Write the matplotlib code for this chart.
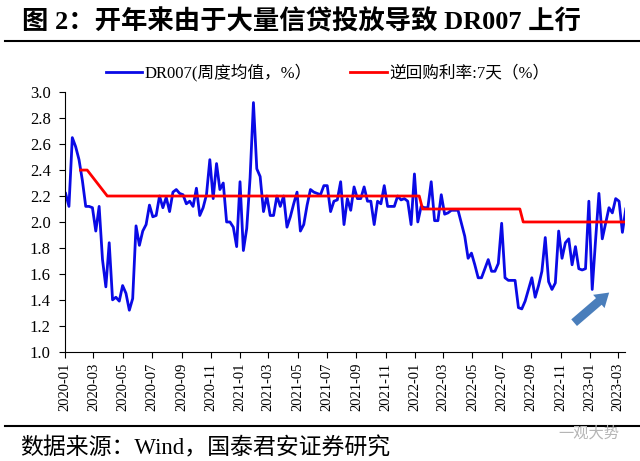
import numpy as np
import pandas as pd
import matplotlib
matplotlib.use("Agg")
import matplotlib.pyplot as plt
import matplotlib.dates as mdates
from matplotlib.lines import Line2D

plt.rcParams["font.family"] = ["Liberation Serif", "Noto Sans CJK SC"]

# weekly DR007 average (%)
dr007 = [
    2.22, 2.12, 2.65, 2.58, 2.48, 2.32, 2.12, 2.12, 2.11, 1.93,
    2.12, 1.71, 1.50, 1.84, 1.40, 1.42, 1.39, 1.51, 1.45, 1.32,
    1.41, 1.97, 1.82, 1.93, 1.98, 2.13, 2.04, 2.05, 2.20, 2.11,
    2.19, 2.08, 2.23, 2.25, 2.22, 2.21, 2.14, 2.16, 2.12, 2.26,
    2.05, 2.11, 2.21, 2.48, 2.18, 2.45, 2.25, 2.30, 2.00, 2.00,
    1.96, 1.81, 2.31, 1.78, 1.95, 2.34, 2.92, 2.41, 2.35, 2.08,
    2.20, 2.05, 2.05, 2.20, 2.12, 2.20, 1.96, 2.04, 2.14, 2.23,
    1.93, 1.98, 2.13, 2.25, 2.23, 2.22, 2.21, 2.28, 2.28, 2.08,
    2.16, 2.17, 2.31, 1.98, 2.18, 2.09, 2.27, 2.18, 2.18, 2.27,
    2.16, 2.16, 1.98, 2.16, 2.14, 2.28, 2.12, 2.12, 2.12, 2.20,
    2.17, 2.18, 2.16, 1.98, 2.37, 2.00, 2.12, 2.11, 2.11, 2.31,
    2.01, 2.01, 2.21, 2.06, 2.07, 2.09, 2.09, 2.09, 1.99, 1.89,
    1.72, 1.76, 1.67, 1.57, 1.57, 1.64, 1.71, 1.62, 1.62, 1.68,
    1.99, 1.57, 1.55, 1.55, 1.55, 1.34, 1.33, 1.39, 1.48, 1.57,
    1.42, 1.51, 1.62, 1.88, 1.54, 1.48, 1.53, 1.93, 1.72, 1.84,
    1.87, 1.67, 1.81, 1.64, 1.63, 1.64, 2.16, 1.48, 1.86, 2.22,
    1.87, 1.99, 2.11, 2.07, 2.18, 2.16, 1.92, 2.10,
]
dates = pd.date_range("2020-01-03", periods=len(dr007), freq="7D")

# 7-day reverse repo rate (%)
repo_dates = pd.to_datetime([
    "2020-02-03", "2020-02-17", "2020-03-30", "2022-01-10",
    "2022-01-17", "2022-08-08", "2022-08-15", "2023-03-17",
])
repo = [2.40, 2.40, 2.20, 2.20, 2.10, 2.10, 2.00, 2.00]

title = "图 2：开年来由于大量信贷投放导致 DR007 上行"
source = "数据来源：Wind，国泰君安证券研究"

fig = plt.figure(figsize=(6.4, 4.61), dpi=100)
ax = fig.add_axes([0.101, 0.237, 0.876, 0.563])

ax.plot(dates, dr007, color="#0a0ae6", lw=2.0, label="DR007(周度均值，%）")
ax.plot(repo_dates, repo, color="#ff0000", lw=2.0, label="逆回购利率:7天（%）")

ax.set_ylim(1.0, 3.0)
ax.set_yticks(np.arange(1.0, 3.01, 0.2))
ax.yaxis.set_major_formatter(plt.FormatStrFormatter("%.1f"))
ax.set_xlim(pd.Timestamp("2020-01-01"), pd.Timestamp("2023-03-16"))
ax.xaxis.set_major_locator(mdates.MonthLocator(bymonth=[1, 3, 5, 7, 9, 11]))
ax.xaxis.set_major_formatter(mdates.DateFormatter("%Y-%m"))
ax.tick_params(axis="x", rotation=90, labelsize=10.5, length=4, pad=4)
ax.tick_params(axis="y", labelsize=12, length=4, pad=6)
for s in ["top", "right"]:
    ax.spines[s].set_visible(False)

# arrow marking the recent rise
ax.annotate("", xy=(0.975, 0.235), xytext=(0.905, 0.105), xycoords="axes fraction",
            arrowprops=dict(arrowstyle="simple,head_length=0.7,head_width=0.9,tail_width=0.45",
                            color="#4a7ebb", mutation_scale=14, lw=0))

fig.legend(loc="center", bbox_to_anchor=(0.512, 0.842), ncol=2, frameon=False,
           fontsize=12, handlelength=2.2, columnspacing=2.3, handletextpad=0.15)

fig.text(0.034, 0.952, title, fontsize=19, fontweight="bold", va="center")
fig.add_artist(Line2D([0.008, 1.0], [0.911, 0.911], color="black", lw=1.5))
fig.add_artist(Line2D([0.008, 1.0], [0.076, 0.076], color="black", lw=1.5))
fig.text(0.031, 0.028, source, fontsize=16.5, va="center")
fig.text(0.872, 0.061, "一观大势", fontsize=11, color="#b5b5b5", va="center")

fig.savefig("out.png", dpi=100)
